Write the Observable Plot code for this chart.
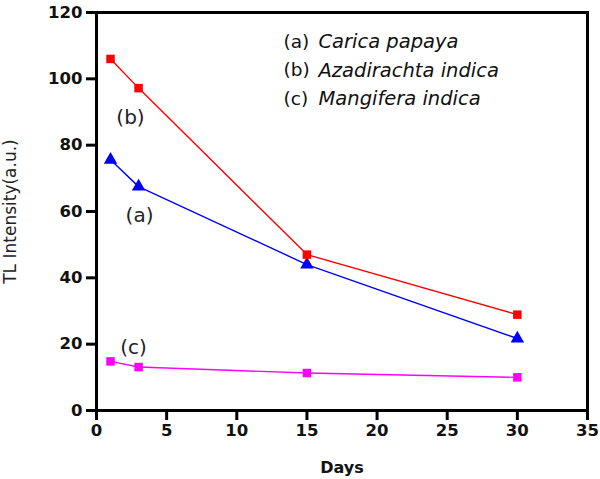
<!DOCTYPE html>
<html><head><meta charset="utf-8">
<script src="https://cdn.jsdelivr.net/npm/d3@7"></script>
<script src="https://cdn.jsdelivr.net/npm/@observablehq/plot@0.6"></script>
<style>body{margin:0;background:#fff}</style>
</head><body><div id="chart"></div>
<script>
const days = [1, 3, 15, 30];
const carica = [75.6, 67.5, 44, 21.7];      // (a) blue
const azadirachta = [106, 97.2, 47, 28.9];  // (b) red
const mangifera = [14.8, 13.1, 11.3, 10.0]; // (c) magenta
const seriesKeys = ["(a)", "(b)", "(c)"];
const seriesNames = ["Carica papaya", "Azadirachta indica", "Mangifera indica"];
const xTicks = [0, 5, 10, 15, 20, 25, 30, 35];
const yTicks = [0, 20, 40, 60, 80, 100, 120];

const vals = {"(a)": carica, "(b)": azadirachta, "(c)": mangifera};
const style = {
  "(a)": {color: "#0000ff", symbol: "triangle", r: 5, lab: [29, 56]},
  "(b)": {color: "#ff0000", symbol: "square", r: 4.8, lab: [20, 59]},
  "(c)": {color: "#ff00ff", symbol: "square", r: 4.8, lab: [23, -14]}
};
const seriesData = k => days.map((d, i) => ({key: k, day: d, v: vals[k][i]}));
const legend = seriesKeys.map((k, i) => ({key: k, name: seriesNames[i], i}));

const dv = "DejaVu Sans, Verdana, sans-serif";
const seriesMarks = seriesKeys.flatMap(k => {
  const s = style[k], data = seriesData(k);
  return [
    Plot.line(data, {x: "day", y: "v", stroke: s.color, strokeWidth: 1.4}),
    Plot.dot(data, {x: "day", y: "v", symbol: s.symbol, fill: s.color, r: s.r}),
    Plot.text(data.slice(0, 1), {x: "day", y: "v", text: "key", dx: s.lab[0], dy: s.lab[1],
      fontSize: 20, fontFamily: dv, fill: "#222"})
  ];
});
const legendMarks = legend.flatMap(d => [
  Plot.text([d], {frameAnchor: "top-left", text: "key", dx: 187, dy: 22 + 28.5 * d.i,
    textAnchor: "start", fontSize: 18.5, fontFamily: dv, fill: "#111"}),
  Plot.text([d], {frameAnchor: "top-left", text: "name", dx: 222, dy: 22 + 28.5 * d.i,
    textAnchor: "start", fontSize: 19.5, fontStyle: "italic", fontFamily: dv, fill: "#111",
    style: {letterSpacing: "2px"}})
]);

const chart = Plot.plot({
  width: 600, height: 479,
  marginLeft: 96, marginRight: 13, marginTop: 12, marginBottom: 69,
  style: {fontFamily: dv, fontSize: "15px", color: "#000", background: "#fff"},
  x: {domain: [0, 35], ticks: xTicks, label: "Days"},
  y: {domain: [0, 120], ticks: yTicks, label: "TL Intensity(a.u.)"},
  marks: [
    Plot.axisX({ticks: xTicks, tickSize: 10, tickPadding: 4, strokeWidth: 3, fontWeight: "bold", fontSize: 16.5,
      fill: "#111", label: null}),
    Plot.axisY({ticks: yTicks, tickSize: 10, tickPadding: 4, strokeWidth: 3, fontWeight: "bold", fontSize: 16.5,
      fill: "#111", label: null}),
    Plot.text(["Days"], {frameAnchor: "bottom", dy: 62, fontWeight: "bold", fontSize: 16, fontFamily: dv, fill: "#111"}),
    Plot.text(["TL Intensity(a.u.)"], {frameAnchor: "left", dx: -86, rotate: -90, textAnchor: "middle",
      fontSize: 17, fontFamily: dv, fill: "#222"}),
    Plot.frame({stroke: "#000", strokeWidth: 3}),
    ...seriesMarks,
    ...legendMarks
  ]
});
document.getElementById("chart").append(chart);
</script>
</body></html>
